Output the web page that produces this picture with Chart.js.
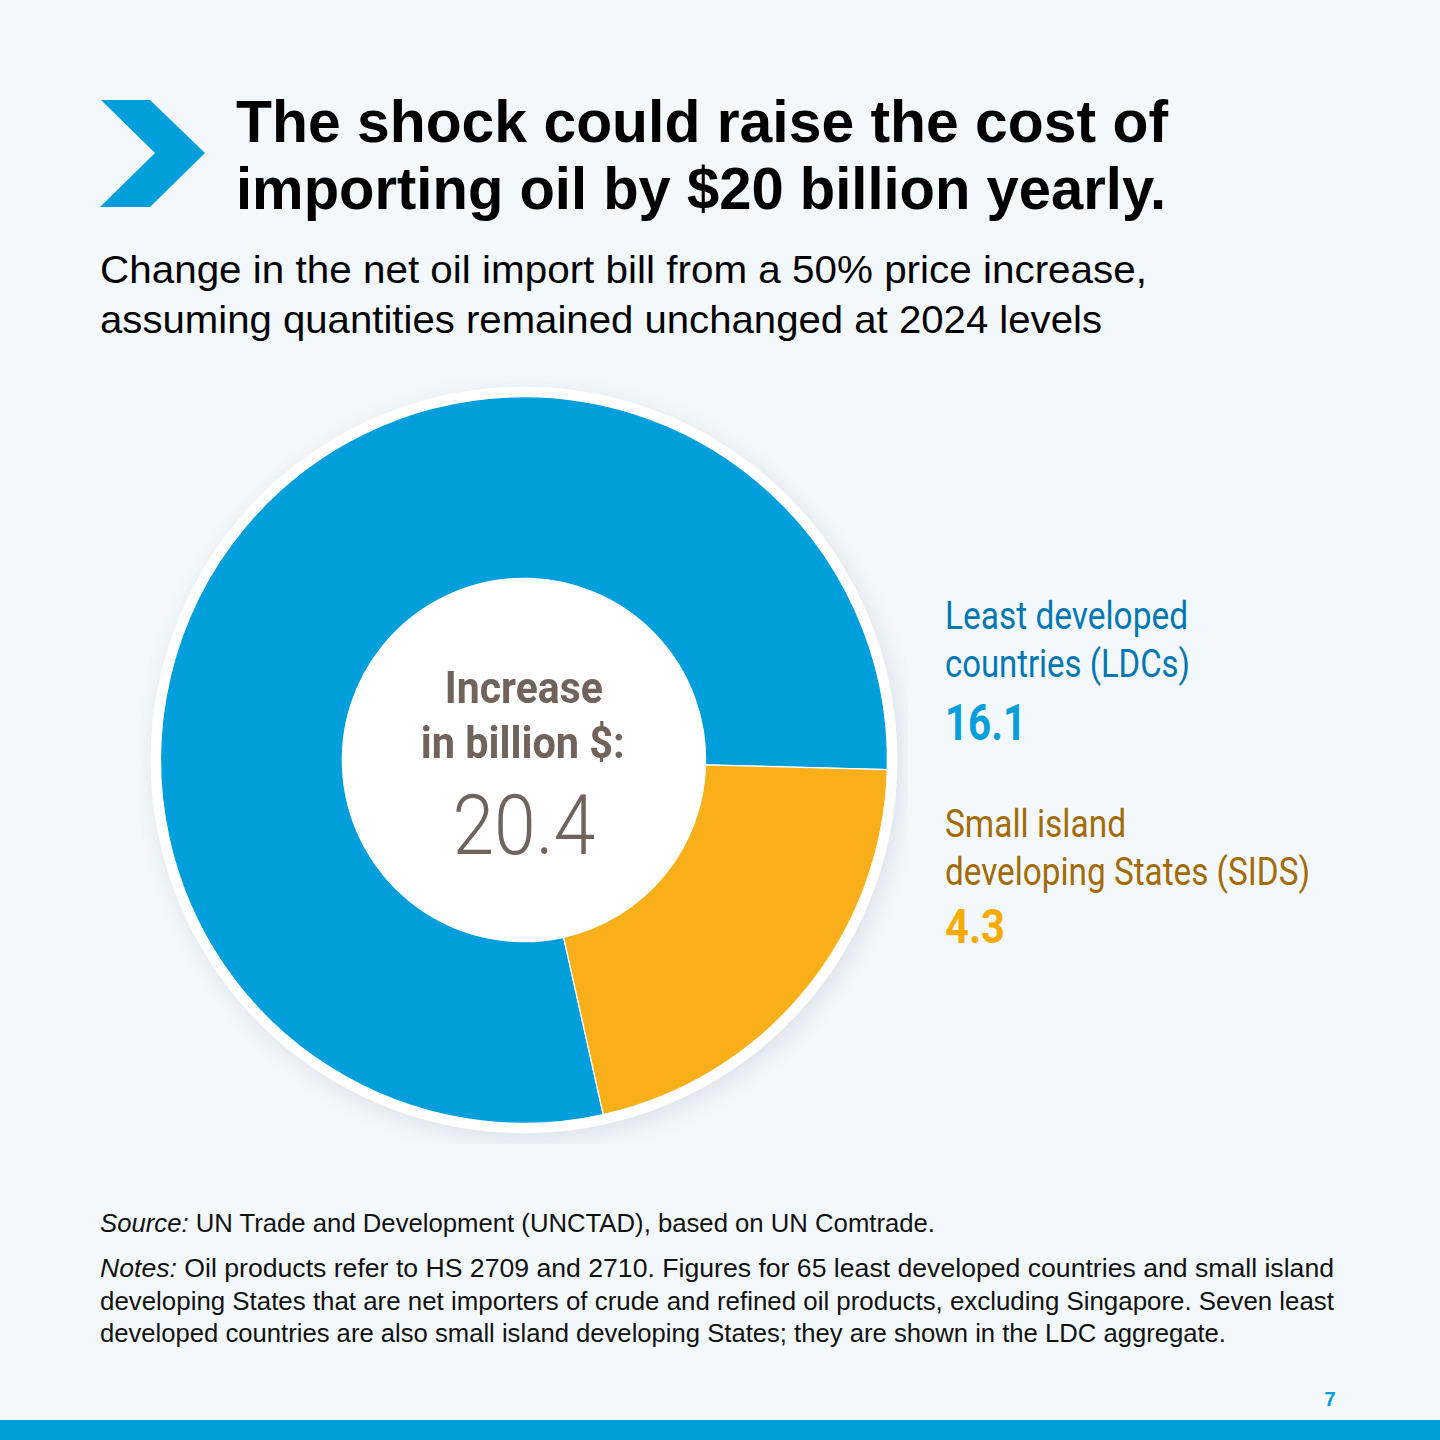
<!DOCTYPE html>
<html>
<head>
<meta charset="utf-8">
<script src="https://cdn.jsdelivr.net/npm/chart.js@4.4.1/dist/chart.umd.min.js"></script>
<style>
  html, body { margin:0; padding:0; }
  body { width:1440px; height:1440px; background:#f3f8fc; position:relative; overflow:hidden; font-family:"Liberation Sans", Arial, sans-serif; }
  .t { position:absolute; white-space:nowrap; line-height:1; margin:0; padding:0; }
  #bar { position:absolute; left:0; top:1420px; width:1440px; height:20px; background:#009edb; }
  #chartBox { position:absolute; left:140px; top:376px; width:768px; height:768px; }
</style>
</head>
<body>
<svg style="position:absolute;left:0;top:0" width="260" height="260">
  <polygon points="101,100 150,100 205,153 150,207 100,207 155,153" fill="#009edb"/>
</svg>
<div id="chartBox"><canvas id="c" width="768" height="768"></canvas></div>
<div id="bar"></div>

<script>
const categories = ["Least developed countries (LDCs)", "Small island developing States (SIDS)"];
const labelLines = [["Least developed", "countries (LDCs)"], ["Small island", "developing States (SIDS)"]];
const values = [16.1, 4.3];
const colors = ["#009edb", "#f9af1a"];
const labelColors = ["#0077b3", "#a36a05"];
const valueColors = ["#009edb", "#f7ab00"];
const titleLines = ["The shock could raise the cost of", "importing oil by $20 billion yearly."];
const subtitleLines = ["Change in the net oil import bill from a 50% price increase,", "assuming quantities remained unchanged at 2024 levels"];
const centerLines = ["Increase", "in billion $:"];
const sourceLine = "<i>Source:</i> UN Trade and Development (UNCTAD), based on UN Comtrade.";
const noteLines = [
  "<i>Notes:</i> Oil products refer to HS 2709 and 2710. Figures for 65 least developed countries and small island",
  "developing States that are net importers of crude and refined oil products, excluding Singapore. Seven least",
  "developed countries are also small island developing States; they are shown in the LDC aggregate."
];
const pageNumber = "7";

const total = values.reduce((a, b) => a + b, 0);

function place(html, o) {
  const el = document.createElement('div');
  el.className = 't';
  const fam = o.family || '"Liberation Sans", Arial, sans-serif';
  el.style.fontFamily = fam;
  el.style.fontSize = o.size + 'px';
  el.style.fontWeight = o.weight || 'normal';
  el.style.color = o.color || '#000';
  el.innerHTML = html;
  document.body.appendChild(el);
  const natural = el.getBoundingClientRect().width;
  const s = o.width ? o.width / natural : 1;
  const k = fam.indexOf('Roboto') === 0 ? 0.8415 : 0.8465;
  el.style.top = (o.base - k * o.size) + 'px';
  if (o.align === 'center') {
    el.style.left = (o.x - natural / 2) + 'px';
    el.style.transformOrigin = 'center top';
  } else {
    el.style.left = o.x + 'px';
    el.style.transformOrigin = 'left top';
  }
  el.style.transform = 'scaleX(' + s + ')';
  return el;
}

// Title & subtitle
place(titleLines[0], {x:236, base:143, size:60, weight:'bold', width:932});
place(titleLines[1], {x:236, base:210, size:60, weight:'bold', width:930});
place(subtitleLines[0], {x:100, base:283, size:39, width:1047});
place(subtitleLines[1], {x:100, base:333, size:39, width:1002});

// Centre
const R = 'Roboto, "Liberation Sans", sans-serif';
place(centerLines[0], {x:524, base:703, size:45, weight:'bold', family:R, color:'#6f635b', width:158, align:'center'});
place(centerLines[1], {x:523, base:758, size:45, weight:'bold', family:R, color:'#6f635b', width:204, align:'center'});
place(total.toFixed(1), {x:524, base:855, size:84, weight:300, family:R, color:'#6f635b', width:143, align:'center'});

// Labels
place(labelLines[0][0], {x:945, base:629, size:38, family:R, color:labelColors[0], width:243});
place(labelLines[0][1], {x:945, base:677, size:38, family:R, color:labelColors[0], width:245});
place(values[0].toFixed(1), {x:945, base:740, size:50, weight:'bold', family:R, color:valueColors[0], width:81});
place(labelLines[1][0], {x:945, base:837, size:38, family:R, color:labelColors[1], width:181});
place(labelLines[1][1], {x:945, base:885, size:38, family:R, color:labelColors[1], width:365});
place(values[1].toFixed(1), {x:945, base:943, size:49, weight:'bold', family:R, color:valueColors[1], width:60});

// Footer
place(sourceLine, {x:100, base:1232, size:26, color:'#111', width:835});
place(noteLines[0], {x:100, base:1277, size:26, color:'#111', width:1234});
place(noteLines[1], {x:100, base:1310, size:26, color:'#111', width:1234});
place(noteLines[2], {x:100, base:1342, size:26, color:'#111', width:1126});
place(pageNumber, {x:1330, base:1406, size:20, weight:'bold', color:'#009edb', align:'center'});

const ringPlugin = {
  id: 'ring',
  beforeDatasetsDraw(chart) {
    const arc = chart.getDatasetMeta(0).data[0];
    if (!arc) return;
    const { x, y, outerRadius, innerRadius } = arc.getProps(['x','y','outerRadius','innerRadius'], true);
    const ctx = chart.ctx;
    ctx.save();
    ctx.shadowColor = 'rgba(60,80,100,0.13)';
    ctx.shadowBlur = 22;
    ctx.shadowOffsetX = 4;
    ctx.shadowOffsetY = 6;
    ctx.beginPath();
    ctx.arc(x, y, outerRadius + 10, 0, Math.PI * 2);
    ctx.fillStyle = '#ffffff';
    ctx.fill();
    ctx.restore();
    ctx.save();
    ctx.beginPath();
    ctx.arc(x, y, innerRadius, 0, Math.PI * 2);
    ctx.fillStyle = '#ffffff';
    ctx.fill();
    ctx.restore();
  }
};

new Chart(document.getElementById('c'), {
  type: 'doughnut',
  data: {
    labels: categories,
    datasets: [{
      data: values,
      backgroundColor: colors,
      borderColor: '#ffffff',
      borderWidth: 1.2,
      borderAlign: 'center'
    }]
  },
  options: {
    responsive: false,
    animation: false,
    rotation: 167.4,
    cutout: '50%',
    layout: { padding: 20 },
    plugins: { legend: { display: false }, tooltip: { enabled: false } }
  },
  plugins: [ringPlugin]
});
</script>
</body>
</html>
